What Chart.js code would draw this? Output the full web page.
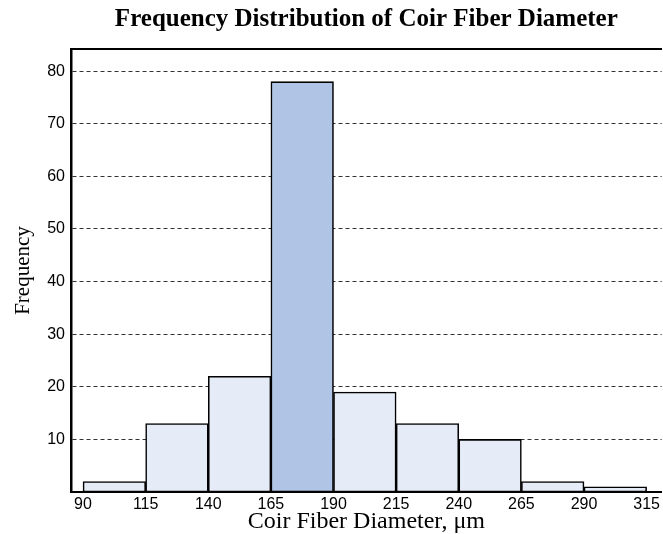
<!DOCTYPE html>
<html>
<head>
<meta charset="utf-8">
<script src="https://cdn.jsdelivr.net/npm/chart.js@4"></script>
<style>
html,body{margin:0;padding:0;background:#fff;}
#wrap{width:663px;height:534px;}
</style>
</head>
<body>
<div id="wrap"><canvas id="c" width="663" height="534"></canvas></div>
<script>
// Data
const binEdges = [90, 115, 140, 165, 190, 215, 240, 265, 290, 315];
const frequencies = [2, 13, 22, 78, 19, 13, 10, 2, 1];
const yTicks = [10, 20, 30, 40, 50, 60, 70, 80];
const highlightIndex = 3;

const titleText = 'Frequency Distribution of Coir Fiber Diameter';
const xTitle = 'Coir Fiber Diameter, \u03bcm';
const yTitle = 'Frequency';

const points = frequencies.map((v, i) => ({ x: (binEdges[i] + binEdges[i + 1]) / 2, y: v }));

const X_MIN = 85.2, X_MAX = 321;

new Chart(document.getElementById('c'), {
  type: 'bar',
  data: {
    datasets: [{
      data: points,
      backgroundColor: frequencies.map((v, i) => i === highlightIndex ? '#B0C5E5' : '#E6ECF7'),
      borderColor: '#000',
      borderWidth: 1.6,
      borderSkipped: false,
      barPercentage: 1,
      categoryPercentage: 1,
      grouped: false
    }]
  },
  options: {
    responsive: false,
    animation: false,
    devicePixelRatio: 1,
    layout: { padding: 0 },
    plugins: {
      legend: { display: false },
      tooltip: { enabled: false },
      title: {
        display: true,
        text: titleText,
        fullSize: false,
        color: '#000',
        font: { family: '"Liberation Serif", "Times New Roman", serif', size: 25, weight: 'bold', lineHeight: 1.2 },
        padding: { top: 5, bottom: 14 }
      }
    },
    scales: {
      x: {
        type: 'linear',
        position: 'bottom',
        min: X_MIN,
        max: X_MAX,
        offset: false,
        afterBuildTicks: s => { s.ticks = binEdges.map(v => ({ value: v })); },
        afterFit: s => { s.height = 42; },
        grid: { display: false, drawTicks: false, offset: false },
        border: { display: true, color: '#000', width: 2 },
        ticks: {
          color: '#000',
          padding: 3,
          maxRotation: 0,
          autoSkip: false,
          font: { family: '"Liberation Sans", Arial, sans-serif', size: 16 },
          callback: v => String(v)
        },
        title: {
          display: true,
          text: xTitle,
          color: '#000',
          font: { family: '"Liberation Serif", "Times New Roman", serif', size: 24, lineHeight: 1.0 },
          padding: { top: 0, bottom: 0 }
        }
      },
      xTop: {
        type: 'linear',
        position: 'top',
        min: X_MIN,
        max: X_MAX,
        offset: false,
        afterFit: s => { s.height = 0; },
        grid: { display: false, drawTicks: false },
        border: { display: true, color: '#000', width: 2 },
        ticks: { display: false }
      },
      y: {
        type: 'linear',
        position: 'left',
        min: 0,
        max: 84.2,
        afterBuildTicks: s => { s.ticks = yTicks.map(v => ({ value: v })); },
        afterFit: s => { s.width = 71; },
        grid: {
          display: true,
          drawTicks: false,
          color: '#333',
          lineWidth: 1
        },
        border: { display: true, color: '#000', width: 2.5, dash: [4, 3] },
        ticks: {
          color: '#000',
          padding: 6,
          font: { family: '"Liberation Sans", Arial, sans-serif', size: 16 },
          callback: v => String(v)
        },
        title: {
          display: true,
          text: yTitle,
          color: '#000',
          font: { family: '"Liberation Serif", "Times New Roman", serif', size: 21, lineHeight: 1.2 },
          padding: { top: 11, bottom: 0 }
        }
      }
    }
  }
});
</script>
</body>
</html>
